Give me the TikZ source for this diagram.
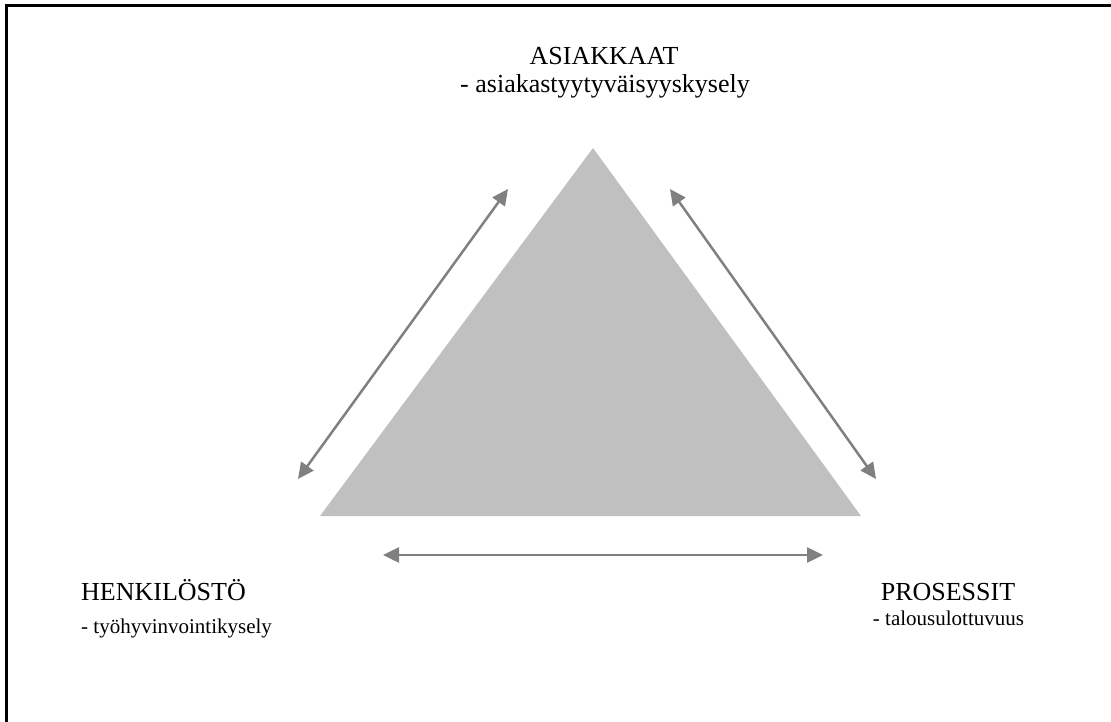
\documentclass[tikz,border=0pt]{standalone}
\usepackage{fontspec}
\setmainfont{Liberation Serif}
\usetikzlibrary{arrows.meta}
\definecolor{triFill}{HTML}{C0C0C0}
\definecolor{arrowGray}{HTML}{808080}
\tikzset{
  frameline/.style={line width=3pt, black},
  link/.style={line width=2.5pt, draw=arrowGray,
    {Triangle[length=16pt,width=15pt]}-{Triangle[length=16pt,width=15pt]}},
  head/.style={font=\fontsize{26}{30}\selectfont, inner sep=0pt, anchor=base},
  subbig/.style={font=\fontsize{26}{30}\selectfont, inner sep=0pt, anchor=base},
  subsmall/.style={font=\fontsize{21}{25}\selectfont, inner sep=0pt, anchor=base}
}
\begin{document}
\begin{tikzpicture}[x=1pt,y=-1pt]
  \useasboundingbox (0,0) rectangle (1111,722);
  % frame
  \draw[frameline] (6,722) -- (6,6) -- (1111,6);
  % central triangle
  \coordinate (apex) at (593,148);
  \coordinate (bl) at (320,516);
  \coordinate (br) at (861,516);
  \fill[triFill] (apex) -- (br) -- (bl) -- cycle;
  % arrow end points
  \coordinate (lA) at (298,479);
  \coordinate (lB) at (508,189);
  \coordinate (rA) at (670,189);
  \coordinate (rB) at (876,479);
  \coordinate (bA) at (383,555);
  \coordinate (bB) at (823,555);
  \draw[link] (lA) -- (lB);
  \draw[link] (rA) -- (rB);
  \draw[link] (bA) -- (bB);
  % labels
  \node[head] (asiakkaat) at (604,65) {ASIAKKAAT};
  \node[subbig] (asiakkaatsub) at (605,93) {- asiakastyytyväisyyskysely};
  \node[head, anchor=base west] (henkilosto) at (81,600) {HENKILÖSTÖ};
  \node[subsmall, anchor=base west] (henkilostosub) at (81,633) {- työhyvinvointikysely};
  \node[head] (prosessit) at (948,600) {PROSESSIT};
  \node[subsmall] (prosessitsub) at (948.5,625) {- talousulottuvuus};
\end{tikzpicture}
\end{document}
